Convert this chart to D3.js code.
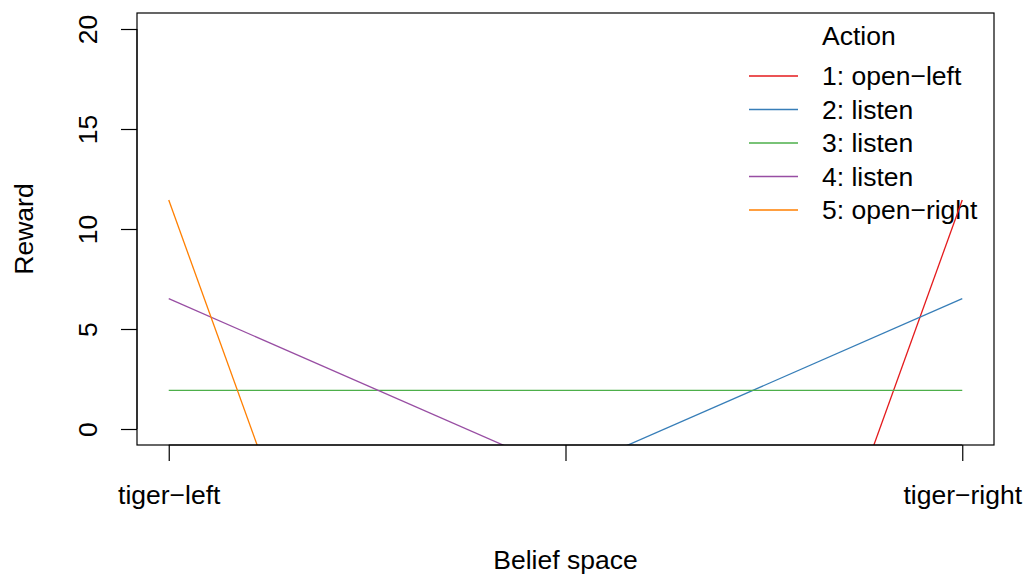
<!DOCTYPE html>
<html>
<head>
<meta charset="utf-8">
<script src="https://cdn.jsdelivr.net/npm/d3@7"></script>
<style>
  body { margin: 0; background: #fff; }
  text { font-family: "Liberation Sans", Arial, sans-serif; fill: #000; }
</style>
</head>
<body>
<script>
// Alpha vectors: value at tiger-left end and tiger-right end
const actions = ['1: open\u2212left', '2: listen', '3: listen', '4: listen', '5: open\u2212right'];
const valueLeft = [-98.55, -10.854, 1.933, 6.517, 11.450];
const valueRight = [11.450, 6.517, 1.933, -10.854, -98.55];
const colors = ['#E41A1C', '#377EB8', '#4DAF4A', '#984EA3', '#FF7F00'];

const xTicks = [0, 0.5, 1];
const xTickLabels = ['tiger\u2212left', '', 'tiger\u2212right'];
const yTicks = [0, 5, 10, 15, 20];

const fullWidth = 1025;
const fullHeight = 574;
const box = { left: 137, right: 994, top: 13, bottom: 445 };
const fontSize = '26.5px';

const svg = d3.select('body')
  .append('svg')
  .attr('width', fullWidth)
  .attr('height', fullHeight);

// R style 4% extension
const x = d3.scaleLinear().domain([-0.04, 1.04]).range([box.left, box.right]);
const y = d3.scaleLinear().domain([-0.8, 20.8]).range([box.bottom, box.top]);

svg.append('clipPath')
  .attr('id', 'clip-plot')
  .append('rect')
  .attr('x', box.left)
  .attr('y', box.top)
  .attr('width', box.right - box.left)
  .attr('height', box.bottom - box.top);

// Legend (no box)
const leg = svg.append('g');
leg.append('text')
  .attr('x', 822)
  .attr('y', 36)
  .attr('dy', '0.35em')
  .style('font-size', fontSize)
  .text('Action');

actions.forEach((a, i) => {
  const ly = 76 + i * 33.5;
  leg.append('line')
    .attr('x1', 749).attr('x2', 798)
    .attr('y1', ly).attr('y2', ly)
    .attr('stroke', colors[i])
    .attr('stroke-width', 1.3);
  leg.append('text')
    .attr('x', 822)
    .attr('y', ly)
    .attr('dy', '0.35em')
    .style('font-size', fontSize)
    .text(a);
});

// Lines
const lines = svg.append('g').attr('clip-path', 'url(#clip-plot)');
actions.forEach((a, i) => {
  lines.append('line')
    .attr('x1', x(0)).attr('y1', y(valueLeft[i]))
    .attr('x2', x(1)).attr('y2', y(valueRight[i]))
    .attr('stroke', colors[i])
    .attr('stroke-width', 1.3);
});

// Box
svg.append('rect')
  .attr('x', box.left)
  .attr('y', box.top)
  .attr('width', box.right - box.left)
  .attr('height', box.bottom - box.top)
  .attr('fill', 'none')
  .attr('stroke', '#000')
  .attr('stroke-width', 1.2);

// X axis
const xAxis = svg.append('g')
  .attr('transform', `translate(0, ${box.bottom})`)
  .call(d3.axisBottom(x).tickValues(xTicks).tickFormat((d, i) => xTickLabels[i]).tickSize(16));
xAxis.select('.domain').attr('d', `M${x(0)},0H${x(1)}`);
xAxis.selectAll('.tick line').attr('stroke-width', 1.2);
xAxis.selectAll('.tick text')
  .attr('y', 59).attr('dy', null)
  .style('font-size', fontSize)
  .attr('fill', '#000');

// Y axis
const yAxis = svg.append('g')
  .attr('transform', `translate(${box.left}, 0)`)
  .call(d3.axisLeft(y).tickValues(yTicks).tickSize(16));
yAxis.select('.domain').attr('d', `M0,${y(0)}V${y(20)}`);
yAxis.selectAll('.tick line').attr('stroke-width', 1.2);
yAxis.selectAll('.tick text')
  .attr('x', 0).attr('dy', null)
  .attr('text-anchor', 'middle')
  .attr('transform', 'translate(-40, 0) rotate(-90)')
  .style('font-size', fontSize)
  .attr('fill', '#000');

// Axis titles
svg.append('text')
  .attr('x', (x(0) + x(1)) / 2)
  .attr('y', 569)
  .attr('text-anchor', 'middle')
  .style('font-size', fontSize)
  .text('Belief space');

svg.append('text')
  .attr('transform', `translate(33, ${(box.top + box.bottom) / 2}) rotate(-90)`)
  .attr('text-anchor', 'middle')
  .style('font-size', fontSize)
  .text('Reward');
</script>
</body>
</html>
